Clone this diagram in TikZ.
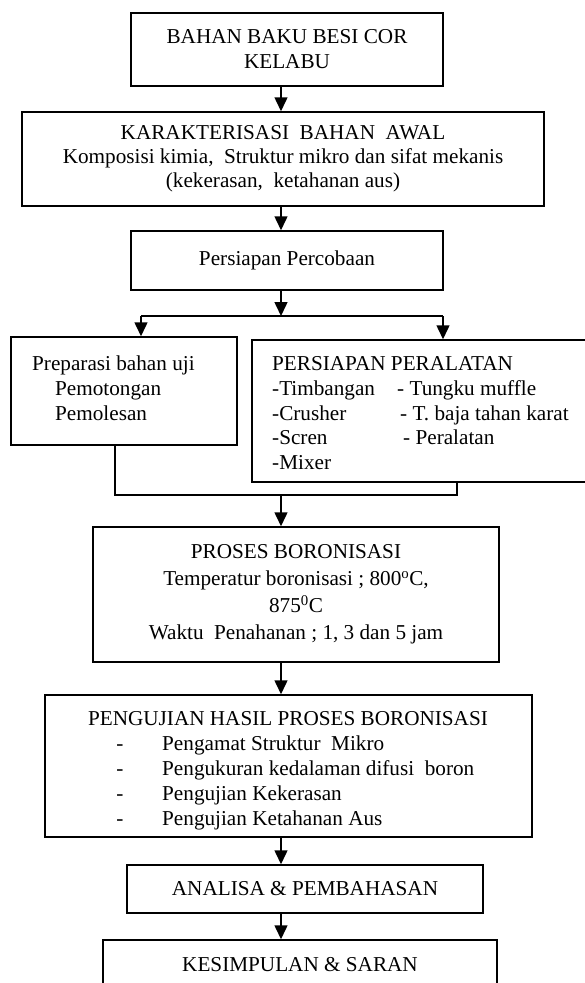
\documentclass[tikz,border=0pt]{standalone}
\usepackage{fontspec}
\setmainfont{Liberation Serif}
\usetikzlibrary{arrows.meta}
\begin{document}
\begin{tikzpicture}[x=1pt,y=-1pt,
  every node/.style={font=\fontsize{21.2}{25}\selectfont, inner sep=0pt},
  box/.style={draw, line width=1.5pt, rectangle, inner sep=0pt, align=center},
  conn/.style={line width=1.5pt},
  arr/.style={conn, -{Triangle[width=13pt,length=14pt]}},
  lbl/.style={anchor=base west},
  mid/.style={anchor=base}]
\useasboundingbox (0,0) rectangle (585,983);
\clip (0,0) rectangle (585,983);
\fill[white] (0,0) rectangle (585,983);

% boxes
\node[box, minimum width=312pt, minimum height=73pt] (bahan) at (287,49.5) {BAHAN BAKU BESI COR\\KELABU};
\node[box, minimum width=522pt, minimum height=94pt, font=\fontsize{21.2}{24}\selectfont] (karak) at (283,159)
  {KARAKTERISASI\ \ BAHAN\ \ AWAL\\Komposisi kimia,\ \ Struktur mikro dan sifat mekanis\\(kekerasan,\ \ ketahanan aus)};
\node[box, minimum width=312pt, minimum height=59pt] (persiapan) at (287,260.5) {Persiapan Percobaan};
\node[box, minimum width=226pt, minimum height=108pt] (prep) at (124,391) {};
\node[box, minimum width=348pt, minimum height=142pt] (alat) at (426,411) {};
\node[box, minimum width=406pt, minimum height=135pt, font=\fontsize{21.2}{27}\selectfont] (proses) at (296,594.5)
  {PROSES BORONISASI\\Temperatur boronisasi ; 800\textsuperscript{o}C,\\875\textsuperscript{0}C\\Waktu\ \ Penahanan ; 1, 3 dan 5 jam};
\node[box, minimum width=487pt, minimum height=142pt] (uji) at (288.5,766) {};
\node[box, minimum width=356pt, minimum height=48pt] (analisa) at (305,889) {ANALISA \& PEMBAHASAN};
\node[box, minimum width=394pt, minimum height=50pt] (simpul) at (300,965) {KESIMPULAN \& SARAN};

% texts of the left box
\node[lbl] (p1) at (32,370) {Preparasi bahan uji};
\node[lbl] (p2) at (55,395) {Pemotongan};
\node[lbl] (p3) at (55,420) {Pemolesan};

% texts of the right box
\node[lbl] (a0) at (272,370) {PERSIAPAN PERALATAN};
\node[lbl] (a1) at (272,395) {-Timbangan};
\node[lbl] (a2) at (272,420) {-Crusher};
\node[lbl] (a3) at (272,444) {-Scren};
\node[lbl] (a4) at (272,469) {-Mixer};
\node[lbl] (b1) at (397,395) {- Tungku muffle};
\node[lbl] (b2) at (400,420) {- T. baja tahan karat};
\node[lbl] (b3) at (403,444) {- Peralatan};

% texts of the testing box
\node[mid] (u0) at (288,725) {PENGUJIAN HASIL PROSES BORONISASI};
\node[mid] (d1) at (120,750) {-};
\node[mid] (d2) at (120,775) {-};
\node[mid] (d3) at (120,800) {-};
\node[mid] (d4) at (120,825) {-};
\node[lbl] (u1) at (162,750) {Pengamat Struktur\ \ Mikro};
\node[lbl] (u2) at (162,775) {Pengukuran kedalaman difusi\ \ boron};
\node[lbl] (u3) at (162,800) {Pengujian Kekerasan};
\node[lbl] (u4) at (162,825) {Pengujian Ketahanan Aus};

% connector points
\coordinate (ax) at (281,0);
\coordinate (bc) at (281,316);
\coordinate (bl) at (141,316);
\coordinate (br) at (443,316);
\coordinate (jl) at (115,495);
\coordinate (jc) at (281,495);
\coordinate (jr) at (457,495);

% connectors
\draw[arr] (bahan.south -| ax) -- (karak.north -| ax);
\draw[arr] (karak.south -| ax) -- (persiapan.north -| ax);
\draw[arr] (persiapan.south -| ax) -- (bc);
\draw[conn] (bl) -- (br);
\draw[arr] (bl) -- (prep.north -| bl);
\draw[arr] (br) -- (alat.north -| br);
\draw[conn] (prep.south -| jl) -- (jl) -- (jr) -- (alat.south -| jr);
\draw[arr] (jc) -- (proses.north -| jc);
\draw[arr] (proses.south -| ax) -- (uji.north -| ax);
\draw[arr] (uji.south -| ax) -- (analisa.north -| ax);
\draw[arr] (analisa.south -| ax) -- (simpul.north -| ax);
\end{tikzpicture}
\end{document}
